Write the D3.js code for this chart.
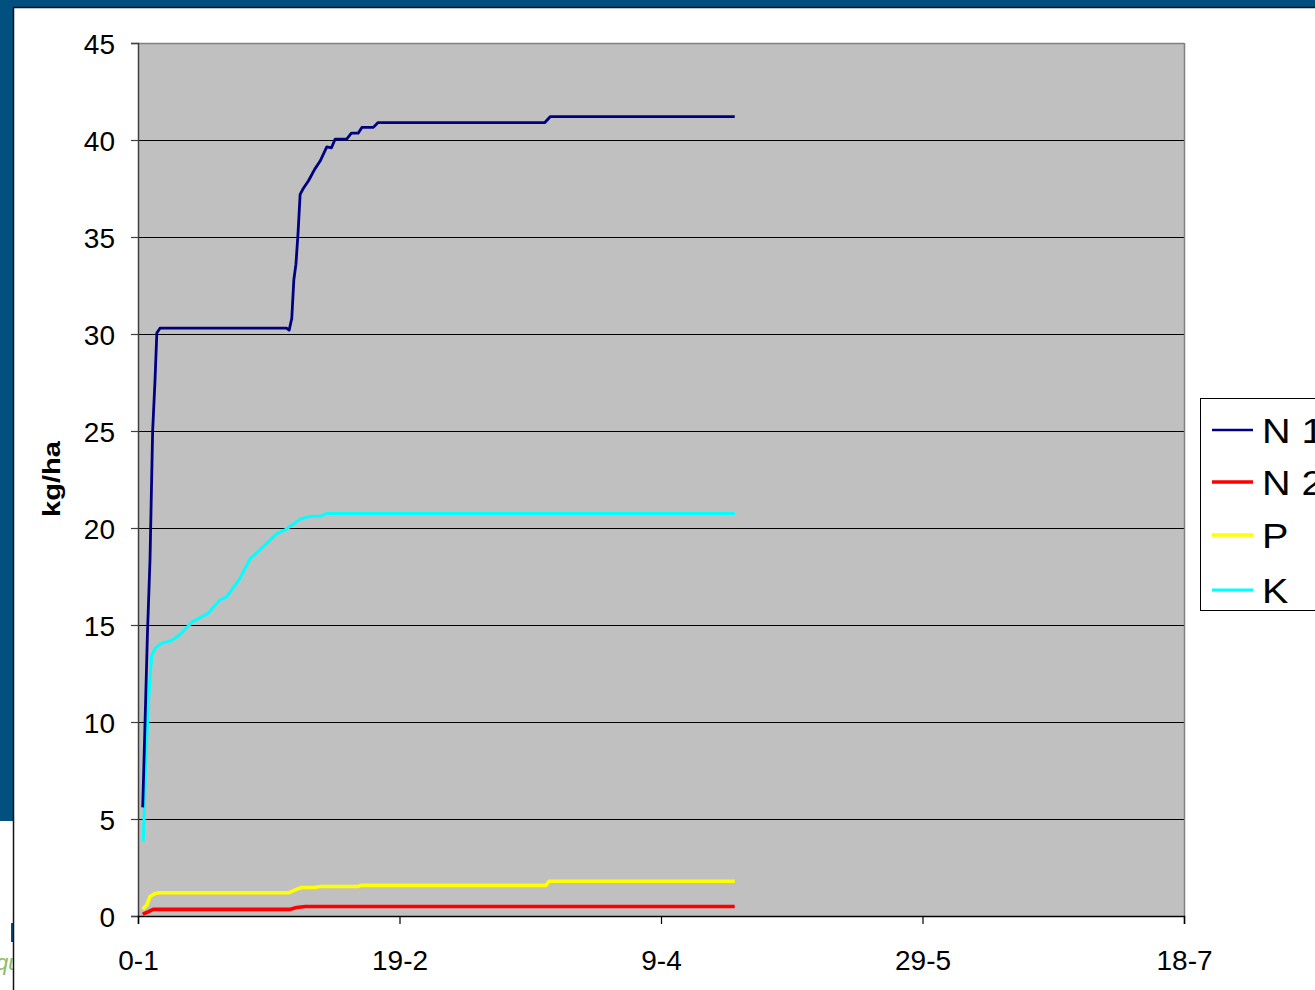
<!DOCTYPE html>
<html>
<head>
<meta charset="utf-8">
<script src="https://cdn.jsdelivr.net/npm/d3@7"></script>
<style>
  html, body { margin: 0; padding: 0; background: #ffffff; }
  svg { display: block; }
  text { font-family: "Liberation Sans", Arial, sans-serif; }
</style>
</head>
<body>
<svg id="chart" width="1315" height="990"></svg>
<script>
// ---- Data (days since 0-1, kg/ha) ----
const xTickDays = [0, 50, 100, 150, 200];
const xTickLabels = ["0-1", "19-2", "9-4", "29-5", "18-7"];
const yTicks = [0, 5, 10, 15, 20, 25, 30, 35, 40, 45];

const seriesNames = ["N 1", "N 2", "P", "K"];
const seriesColors = ["#000080", "#ff0000", "#ffff00", "#00ffff"];

const n1Days = [0.9, 1.3, 1.8, 2.3, 2.8, 3.25, 3.6, 4.2, 28.4, 28.9, 29.4, 29.8, 30.2, 30.6, 31.0, 31.6, 32.6, 33.8, 34.8, 36.1, 37.0, 37.7, 39.9, 40.8, 42.1, 42.8, 45.0, 45.9, 77.8, 78.8, 114.1];
const n1Values = [5.6, 9.5, 14.5, 18.4, 25.0, 27.6, 30.05, 30.3, 30.3, 30.2, 30.8, 32.8, 33.6, 35.2, 37.2, 37.5, 37.9, 38.5, 38.9, 39.65, 39.6, 40.05, 40.05, 40.35, 40.35, 40.65, 40.65, 40.9, 40.9, 41.2, 41.2];

const n2Days = [0.9, 2.0, 2.9, 29.0, 30.3, 32.0, 114.1];
const n2Values = [0.1, 0.22, 0.34, 0.34, 0.44, 0.49, 0.49];

const pDays = [0.9, 1.7, 2.3, 3.25, 4.2, 28.9, 30.5, 31.3, 33.8, 34.8, 42.0, 42.6, 78.0, 78.6, 114.1];
const pValues = [0.35, 0.57, 1.0, 1.16, 1.2, 1.2, 1.4, 1.47, 1.47, 1.52, 1.52, 1.58, 1.58, 1.79, 1.79];

const kDays = [1.0, 1.5, 2.0, 2.6, 3.25, 4.5, 6.4, 8.0, 10.3, 13.4, 15.7, 16.95, 19.5, 21.4, 24.0, 26.5, 28.1, 31.0, 32.9, 34.8, 36.1, 114.1];
const kValues = [3.85, 8.0, 11.1, 13.4, 13.8, 14.05, 14.2, 14.5, 15.15, 15.6, 16.3, 16.45, 17.4, 18.4, 19.05, 19.7, 19.9, 20.45, 20.6, 20.6, 20.75, 20.75];

// ---- Drawing ----
const svg = d3.select("#chart");

// slide background fragments
svg.append("rect").attr("x", 0).attr("y", 0).attr("width", 1315).attr("height", 990).attr("fill", "#ffffff");
svg.append("rect").attr("x", 0).attr("y", 0).attr("width", 1315).attr("height", 7).attr("fill", "#02507f");
svg.append("rect").attr("x", 0).attr("y", 0).attr("width", 13).attr("height", 821).attr("fill", "#02507f");
svg.append("rect").attr("x", 11).attr("y", 923).attr("width", 2).attr("height", 19).attr("fill", "#02507f");
svg.append("text").attr("x", -4).attr("y", 970).attr("font-size", 22).attr("font-style", "italic")
  .attr("fill", "#8dbb6a").text("qu");
// chart area (white) with dark edge
svg.append("rect").attr("x", 14).attr("y", 8).attr("width", 1301).attr("height", 982).attr("fill", "#ffffff");
svg.append("line").attr("x1", 13.5).attr("x2", 13.5).attr("y1", 7).attr("y2", 990).attr("stroke", "#111").attr("stroke-width", 1.5);
svg.append("line").attr("x1", 13).attr("x2", 1315).attr("y1", 7.5).attr("y2", 7.5).attr("stroke", "#111").attr("stroke-width", 1.5);

const x = d3.scaleLinear().domain([0, 200]).range([138, 1184]);
const y = d3.scaleLinear().domain([0, 45]).range([916, 43]);

// plot area
svg.append("rect").attr("x", x(0)).attr("y", y(45)).attr("width", x(200) - x(0)).attr("height", y(0) - y(45))
  .attr("fill", "#c0c0c0");

// gridlines
svg.append("g").selectAll("line").data(yTicks.filter(d => d > 0 && d < 45)).join("line")
  .attr("x1", x(0)).attr("x2", x(200))
  .attr("y1", d => Math.round(y(d)) + 0.5).attr("y2", d => Math.round(y(d)) + 0.5)
  .attr("stroke", "#000").attr("stroke-width", 1.2);

// plot border top/right
svg.append("line").attr("x1", x(0)).attr("x2", x(200)).attr("y1", y(45) + 0.5).attr("y2", y(45) + 0.5)
  .attr("stroke", "#808080").attr("stroke-width", 1.5);
svg.append("line").attr("x1", x(200) + 0.5).attr("x2", x(200) + 0.5).attr("y1", y(45)).attr("y2", y(0))
  .attr("stroke", "#808080").attr("stroke-width", 1.5);

// y axis
const yAxis = d3.axisLeft(y).tickValues(yTicks).tickSize(7).tickPadding(16).tickFormat(d3.format("d"));
const gy = svg.append("g").attr("transform", `translate(${x(0)},0)`).call(yAxis);
gy.select(".domain").attr("stroke", "#404040").attr("stroke-width", 1.5);
gy.selectAll(".tick line").attr("stroke", "#404040").attr("stroke-width", 1.2);
gy.selectAll(".tick text").attr("font-size", 28).attr("fill", "#000")
  .attr("font-family", "'Liberation Sans', Arial, sans-serif").attr("dy", "0.36em");

// x axis
const xAxis = d3.axisBottom(x).tickValues(xTickDays).tickSize(8).tickPadding(26)
  .tickFormat((d, i) => xTickLabels[i]);
const gx = svg.append("g").attr("transform", `translate(0,${y(0)})`).call(xAxis);
gx.select(".domain").attr("stroke", "#000").attr("stroke-width", 1.5);
gx.selectAll(".tick line").attr("stroke", "#000").attr("stroke-width", 1.2);
gx.selectAll(".tick text").attr("font-size", 28).attr("fill", "#000")
  .attr("font-family", "'Liberation Sans', Arial, sans-serif");

// y axis title
svg.append("text")
  .attr("transform", "translate(60,479) rotate(-90)")
  .attr("text-anchor", "middle")
  .attr("font-size", 24).attr("font-weight", "bold")
  .attr("textLength", 76).attr("lengthAdjust", "spacingAndGlyphs")
  .text("kg/ha");

// series
const series = [
  { name: seriesNames[0], color: seriesColors[0], days: n1Days, values: n1Values, width: 2.8 },
  { name: seriesNames[1], color: seriesColors[1], days: n2Days, values: n2Values, width: 3.6 },
  { name: seriesNames[2], color: seriesColors[2], days: pDays, values: pValues, width: 3.6 },
  { name: seriesNames[3], color: seriesColors[3], days: kDays, values: kValues, width: 3.0 }
];
const line = d3.line().x(d => x(d[0])).y(d => y(d[1])).curve(d3.curveLinear);
const drawOrder = [1, 2, 3, 0];
drawOrder.forEach(i => {
  const s = series[i];
  svg.append("path")
    .attr("d", line(s.days.map((d, j) => [d, s.values[j]])))
    .attr("fill", "none").attr("stroke", s.color).attr("stroke-width", s.width)
    .attr("stroke-linejoin", "round").attr("stroke-linecap", "butt");
});

// legend
const lg = svg.append("g");
lg.append("rect").attr("x", 1200.5).attr("y", 398.5).attr("width", 140).attr("height", 212)
  .attr("fill", "#ffffff").attr("stroke", "#000").attr("stroke-width", 1);
const rowY = [430, 482, 535, 590];
const legendWidths = [2.4, 3.6, 3.6, 3.0];
series.forEach((s, i) => {
  lg.append("line").attr("x1", 1212).attr("x2", 1253).attr("y1", rowY[i]).attr("y2", rowY[i])
    .attr("stroke", s.color).attr("stroke-width", legendWidths[i]);
  lg.append("text")
    .attr("transform", `translate(1262,${rowY[i] + 12.5}) scale(1.1,1)`)
    .attr("font-size", 36).attr("fill", "#000").text(s.name);
});
</script>
</body>
</html>
